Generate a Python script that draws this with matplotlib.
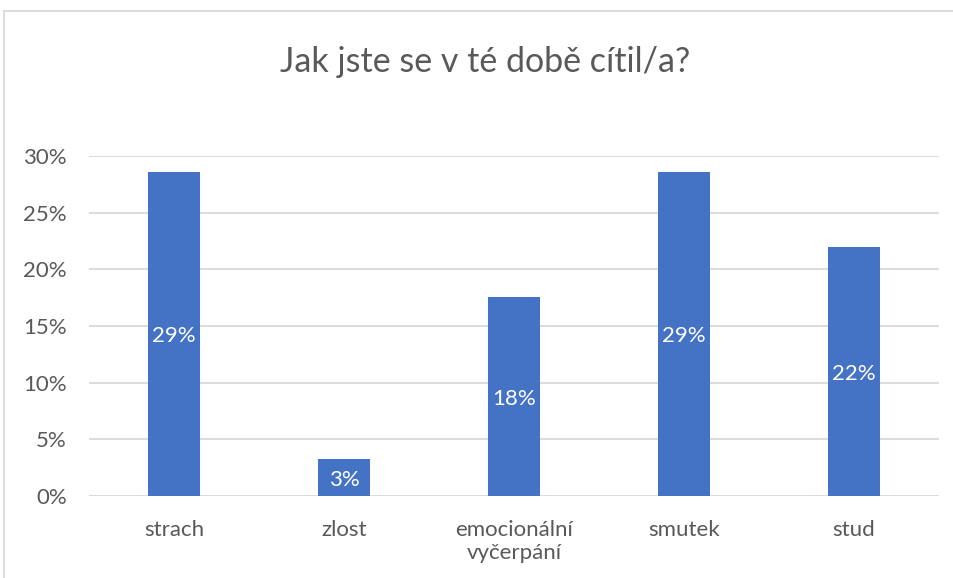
import matplotlib
matplotlib.use("Agg")
import matplotlib.pyplot as plt
from matplotlib.patches import Rectangle
from matplotlib.ticker import FuncFormatter

categories = ["strach", "zlost", "emocionální\nvyčerpání", "smutek", "stud"]
values = [0.286, 0.033, 0.176, 0.286, 0.22]
value_labels = ["29%", "3%", "18%", "29%", "22%"]
yticks = [0, 0.05, 0.10, 0.15, 0.20, 0.25, 0.30]
title = "Jak jste se v té době cítil/a?"

plt.rcParams['font.family'] = ['Lato', 'DejaVu Sans']
W, H = 954, 578
fig = plt.figure(figsize=(W/100, H/100), dpi=100)
fig.patch.set_facecolor('white')

# chart border
fig.patches.append(Rectangle((4/W, -0.05), 1.1, 1 - 11/H + 0.05, transform=fig.transFigure,
                             fill=False, edgecolor='#d9d9d9', linewidth=1.3))

ax = fig.add_axes([89/W, 1 - 496/H, 850/W, 340/H])
x = list(range(len(categories)))
bars = ax.bar(x, values, width=0.31, color='#4472c4', zorder=3)
ax.set_xlim(-0.5, len(categories) - 0.5)
ax.set_ylim(0, 0.30)
ax.set_yticks(yticks)
ax.yaxis.set_major_formatter(FuncFormatter(lambda v, p: f"{v*100:.0f}%"))
ax.set_xticks(x)
ax.set_xticklabels(categories, linespacing=1.2)
for s in ax.spines.values():
    s.set_visible(False)
ax.grid(axis='y', color='#d9d9d9', linewidth=1.3, zorder=0)
ax.tick_params(axis='both', length=0, colors='#595959', labelsize=16)
ax.tick_params(axis='y', pad=16)
ax.tick_params(axis='x', pad=17)
for lbl in ax.get_xticklabels():
    lbl.set_verticalalignment('top')

for xi, v, t in zip(x, values, value_labels):
    ax.text(xi, v / 2 - 0.002, t, ha='center', va='center', color='white', fontsize=16, zorder=4)

fig.text(485/W, 1 - 62/H, title, ha='center', va='center', color='#595959', fontsize=24.5)

fig.savefig('out.png', dpi=100)
